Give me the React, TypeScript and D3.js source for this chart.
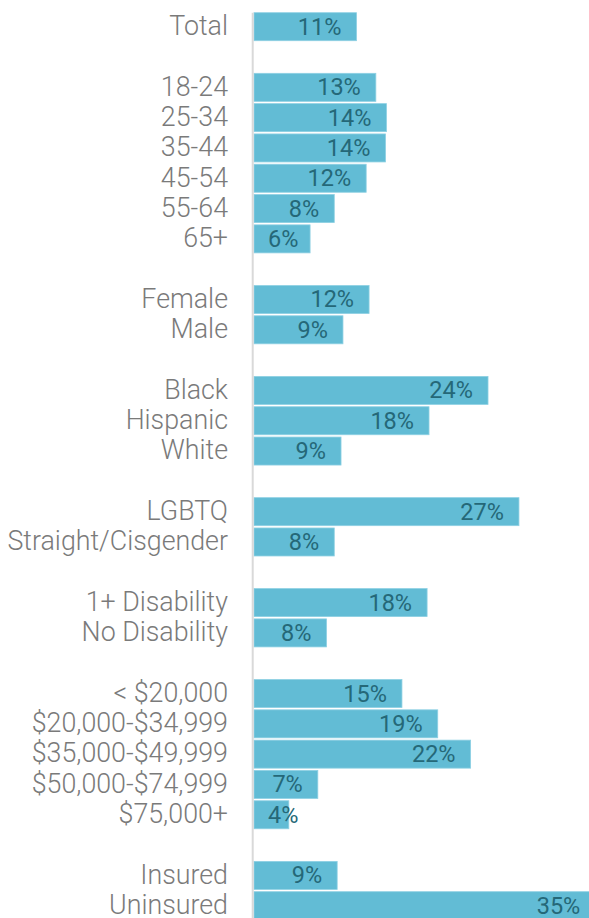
import React, { useEffect, useRef } from 'react';
import * as d3 from 'd3';

// rows in drawing order; empty strings are the spacer rows between groups
const categories = [
  'Total', '',
  '18-24', '25-34', '35-44', '45-54', '55-64', '65+', '',
  'Female', 'Male', '',
  'Black', 'Hispanic', 'White', '',
  'LGBTQ', 'Straight/Cisgender', '',
  '1+ Disability', 'No Disability', '',
  '< $20,000', '$20,000-$34,999', '$35,000-$49,999', '$50,000-$74,999', '$75,000+', '',
  'Insured', 'Uninsured',
];

// share in percent, null for spacer rows
const values: (number | null)[] = [
  10.6, null,
  12.6, 13.7, 13.6, 11.6, 8.3, 5.8, null,
  11.9, 9.2, null,
  24.2, 18.1, 9.0, null,
  27.4, 8.3, null,
  17.9, 7.5, null,
  15.3, 19.0, 22.4, 6.6, 3.6, null,
  8.6, 35.3,
];

const WIDTH = 589;
const HEIGHT = 918;

const App: React.FC = () => {
  const ref = useRef<SVGSVGElement>(null);

  useEffect(() => {
    document.body.style.margin = '0';
    if (!ref.current) return;
    const svg = d3.select(ref.current);
    svg.selectAll('*').remove();

    const rows = categories.map((c, i) => ({ key: String(i), name: c, value: values[i] }));

    const axisX = 254;
    const y = d3.scaleBand()
      .domain(rows.map(d => d.key))
      .range([11.55, 11.55 + rows.length * 30.31])
      .paddingInner(0.076)
      .paddingOuter(0.038);

    const x = d3.scaleLinear()
      .domain([0, 35])
      .range([axisX, axisX + 35 * 9.67]);

    const bars = rows.filter(d => d.value !== null);

    // bars
    svg.append('g')
      .selectAll('rect')
      .data(bars)
      .enter()
      .append('rect')
      .attr('x', x(0))
      .attr('y', d => y(d.key)!)
      .attr('width', d => x(d.value as number) - x(0))
      .attr('height', y.bandwidth())
      .attr('fill', '#62bcd5')
      .attr('stroke', '#8ed0e3')
      .attr('stroke-width', 0.8);

    // baseline
    svg.append('line')
      .attr('x1', axisX - 1.3)
      .attr('x2', axisX - 1.3)
      .attr('y1', y(rows[0].key)!)
      .attr('y2', HEIGHT)
      .attr('stroke', '#d9d9d9')
      .attr('stroke-width', 2);

    // category labels
    svg.append('g')
      .selectAll('text')
      .data(bars)
      .enter()
      .append('text')
      .attr('x', 228)
      .attr('y', d => y(d.key)! + y.bandwidth() / 2)
      .attr('dy', '0.31em')
      .attr('text-anchor', 'end')
      .attr('font-family', 'Roboto, sans-serif')
      .attr('font-weight', 300)
      .attr('font-size', '26.8px')
      .attr('fill', '#7a7a7a')
      .text(d => d.name);

    // value labels, pushed right when the bar is too short
    const labels = svg.append('g')
      .selectAll('text')
      .data(bars)
      .enter()
      .append('text')
      .attr('y', d => y(d.key)! + y.bandwidth() / 2)
      .attr('dy', '0.34em')
      .attr('font-family', 'Roboto, sans-serif')
      .attr('font-size', '23.5px')
      .attr('fill', '#256878')
      .text(d => `${Math.round(d.value as number)}%`);

    labels.each(function (d) {
      const w = (this as SVGTextElement).getComputedTextLength();
      const end = Math.max(x(d.value as number) - 15, axisX + 14 + w);
      d3.select(this).attr('x', end).attr('text-anchor', 'end');
    });
  }, []);

  return (
    <svg ref={ref} width={WIDTH} height={HEIGHT} style={{ display: 'block', background: '#fff' }} />
  );
};

export default App;
